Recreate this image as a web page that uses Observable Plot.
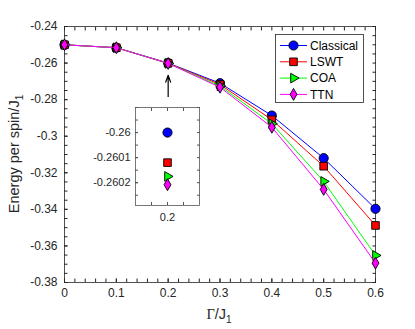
<!DOCTYPE html>
<html>
<head>
<meta charset="utf-8">
<script src="https://cdn.jsdelivr.net/npm/d3@7"></script>
<script src="https://cdn.jsdelivr.net/npm/@observablehq/plot@0.6"></script>
<style>
  html, body { margin: 0; padding: 0; background: #fff; }
  #wrap { position: relative; width: 415px; height: 329px; overflow: hidden; font-family: "Liberation Sans", Arial, sans-serif; }
  #wrap svg { position: absolute; }
</style>
</head>
<body>
<div id="wrap"></div>
<script>
// ---------- data ----------
const gamma = [0, 0.1, 0.2, 0.3, 0.4, 0.5, 0.6];
const classical = [-0.2500, -0.2516, -0.2600, -0.2710, -0.2887, -0.3120, -0.3397];
const lswt      = [-0.2500, -0.2516, -0.2601, -0.2717, -0.2910, -0.3164, -0.3488];
const coa       = [-0.2500, -0.2516, -0.2602, -0.2725, -0.2932, -0.3247, -0.3652];
const ttn       = [-0.2500, -0.2516, -0.2602, -0.2732, -0.2951, -0.3291, -0.3694];

// inset (zoom at Γ/J1 = 0.2)
const insetGamma = [0.2];
const insetClassical = [-0.260000];
const insetLswt      = [-0.260120];
const insetCoa       = [-0.260175];
const insetTtn       = [-0.260208];

const seriesNames = ["Classical", "LSWT", "COA", "TTN"];
const xTicks = [0, 0.1, 0.2, 0.3, 0.4, 0.5, 0.6];
const yTicks = [-0.38, -0.36, -0.34, -0.32, -0.30, -0.28, -0.26, -0.24];
const insetYTicks = [-0.2602, -0.2601, -0.26];
const insetXTicks = [0.2];
const arrowFrom = -0.2815, arrowTo = -0.2667, arrowX = 0.2;

// ---------- styles ----------
const styles = [
  {color: "#0000ff", symbol: "circle",   r: 4.6, rotate: 0},
  {color: "#ff0000", symbol: "square",   r: 4.3, rotate: 0},
  {color: "#00ff00", symbol: "triangle", r: 3.6, rotate: 90},
  {color: "#ff00ff", symbol: "diamond",  r: 3.6, rotate: 0}
];
const AX = "#262626";

function rows(xsArr, valsArr) {
  return xsArr.map((x, i) => ({x, y: valsArr[i]}));
}
const mainData = [classical, lswt, coa, ttn].map(v => rows(gamma, v));
const insetData = [insetClassical, insetLswt, insetCoa, insetTtn].map(v => rows(insetGamma, v));

function seriesMarks(dataList, withLine) {
  const out = [];
  dataList.forEach((d, i) => {
    const s = styles[i];
    if (withLine) out.push(Plot.line(d, {x: "x", y: "y", stroke: s.color, strokeWidth: 1}));
    out.push(Plot.dot(d, {x: "x", y: "y", symbol: () => s.symbol, r: s.r, fill: s.color,
      stroke: "#000", strokeWidth: 0.9, rotate: s.rotate}));
  });
  return out;
}

const xMinor = d3.range(0, 0.6001, 0.02).map(v => +v.toFixed(3));
const yMinor = d3.range(-0.38, -0.2399, 0.005).map(v => +v.toFixed(4));
const TS = -3.5;

const main = Plot.plot({
  width: 415, height: 329,
  marginLeft: 64, marginRight: 40, marginTop: 26, marginBottom: 47,
  style: {fontFamily: "Liberation Sans, Arial, sans-serif", fontSize: "12px", background: "transparent"},
  x: {domain: [0, 0.6]},
  y: {domain: [-0.38, -0.24]},
  marks: [
    Plot.frame({stroke: AX, strokeWidth: 0.8}),
    Plot.axisX(xMinor, {anchor: "bottom", tickSize: TS, stroke: AX, fill: "none", label: null}),
    Plot.axisX(xMinor, {anchor: "top", tickSize: TS, stroke: AX, fill: "none", label: null}),
    Plot.axisY(yMinor, {anchor: "left", tickSize: TS, stroke: AX, fill: "none", label: null}),
    Plot.axisY(yMinor, {anchor: "right", tickSize: TS, stroke: AX, fill: "none", label: null}),
    Plot.axisX(xTicks, {anchor: "bottom", tickSize: TS, tickPadding: 9, stroke: AX, fill: AX, label: null,
      tickFormat: d => d3.format("")(d), fontSize: 12}),
    Plot.axisY(yTicks, {anchor: "left", tickSize: TS, tickPadding: 10.5, stroke: AX, fill: AX, label: null,
      tickFormat: d => (d === -0.3 ? "-0.3" : String(d)), fontSize: 12}),
    Plot.arrow([{x: arrowX, y1: arrowFrom, y2: arrowTo}], {x: "x", y1: "y1", y2: "y2", stroke: "#000",
      strokeWidth: 1.2, headLength: 9, headAngle: 40}),
    ...seriesMarks(mainData, true)
  ]
});
main.style.left = "0px"; main.style.top = "0px";

const wrap = document.getElementById("wrap");
wrap.appendChild(main);

// axis labels with subscripts
const svg = d3.select(main);
const yl = svg.append("text")
  .attr("transform", "translate(19,154) rotate(-90)")
  .attr("text-anchor", "middle")
  .attr("fill", AX)
  .style("font-family", "Liberation Sans, Arial, sans-serif")
  .style("font-size", "14.5px");
yl.append("tspan").text("Energy per spin/J");
yl.append("tspan").attr("dy", 4).style("font-size", "10px").text("1");

const xl = svg.append("text")
  .attr("x", 219).attr("y", 319)
  .attr("text-anchor", "middle")
  .attr("fill", AX)
  .style("font-size", "14.5px");
xl.append("tspan").style("font-family", "Liberation Serif, serif").text("Γ");
xl.append("tspan").style("font-family", "Liberation Sans, Arial, sans-serif").text("/J");
xl.append("tspan").attr("dy", 4).style("font-family", "Liberation Sans, Arial, sans-serif").style("font-size", "10px").text("1");

// legend
const lg = svg.append("g");
lg.append("rect").attr("x", 275.5).attr("y", 34.5).attr("width", 88).attr("height", 68)
  .attr("fill", "#fff").attr("stroke", AX).attr("stroke-width", 0.8);
const symMap = {circle: d3.symbolCircle, square: d3.symbolSquare, triangle: d3.symbolTriangle, diamond: d3.symbolDiamond};
seriesNames.forEach((name, i) => {
  const s = styles[i];
  const yy = 45.5 + i * 16.3;
  lg.append("line").attr("x1", 280).attr("x2", 307).attr("y1", yy).attr("y2", yy)
    .attr("stroke", s.color).attr("stroke-width", 1);
  lg.append("path").attr("d", d3.symbol(symMap[s.symbol], Math.PI * s.r * s.r)())
    .attr("transform", `translate(293.5,${yy}) rotate(${s.rotate})`)
    .attr("fill", s.color).attr("stroke", "#000").attr("stroke-width", 0.9);
  lg.append("text").attr("x", 310).attr("y", yy).attr("dy", "0.35em")
    .attr("text-anchor", "start")
    .attr("fill", "#000")
    .style("font-family", "Liberation Sans, Arial, sans-serif").style("font-size", "12px")
    .text(name);
});

// inset
const iyMinor = d3.range(-0.26025, -0.25989, 0.00005).map(v => +v.toFixed(6));
const ixMinor = [0.195, 0.2, 0.205];
const inset = Plot.plot({
  width: 125, height: 130,
  marginLeft: 55, marginRight: 6, marginTop: 10, marginBottom: 22,
  style: {fontFamily: "Liberation Sans, Arial, sans-serif", fontSize: "11px", background: "#fff"},
  x: {domain: [0.19, 0.21]},
  y: {domain: [-0.260291, -0.2599]},
  marks: [
    Plot.frame({stroke: "#555", strokeWidth: 0.8, fill: "#fff"}),
    Plot.axisX(ixMinor, {anchor: "bottom", tickSize: -3, stroke: "#555", fill: "none", label: null}),
    Plot.axisX(ixMinor, {anchor: "top", tickSize: -3, stroke: "#555", fill: "none", label: null}),
    Plot.axisY(iyMinor, {anchor: "left", tickSize: -3, stroke: "#555", fill: "none", label: null}),
    Plot.axisY(iyMinor, {anchor: "right", tickSize: -3, stroke: "#555", fill: "none", label: null}),
    Plot.axisX(insetXTicks, {anchor: "bottom", tickSize: -3, tickPadding: 11, stroke: "#555", fill: AX,
      label: null, tickFormat: d => String(d), fontSize: 11}),
    Plot.axisY(insetYTicks, {anchor: "left", tickSize: -3, tickPadding: 8, stroke: "#555", fill: AX,
      label: null, tickFormat: d => String(d), fontSize: 11}),
    ...seriesMarks(insetData, false)
  ]
});
inset.style.left = "80px"; inset.style.top = "97px";
wrap.appendChild(inset);
</script>
</body>
</html>
